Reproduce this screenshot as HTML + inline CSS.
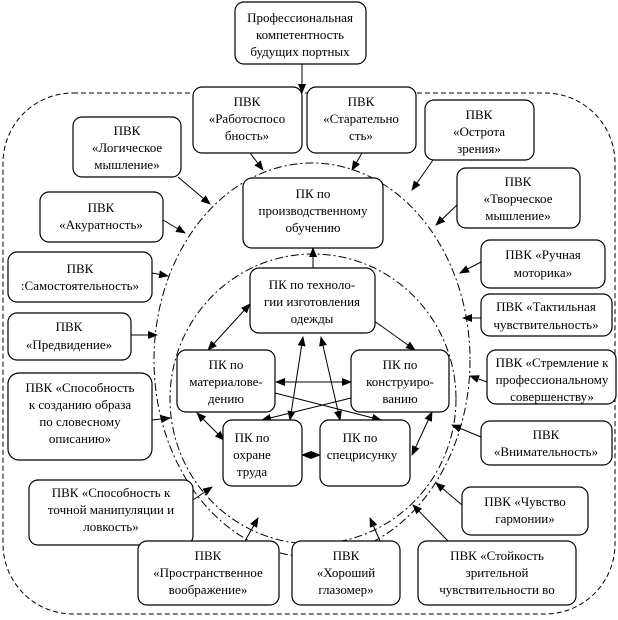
<!DOCTYPE html>
<html><head><meta charset="utf-8"><style>
html,body{margin:0;padding:0;background:#fff;}
svg{display:block;}
text{font-family:"Liberation Serif","DejaVu Serif",serif;font-size:13px;fill:#000;text-anchor:middle;}
.b{fill:#fff;stroke:#000;stroke-width:1.2;}
.l{stroke:#000;stroke-width:1;fill:none;}
</style></head><body>
<svg width="618" height="620" viewBox="0 0 618 620" xmlns="http://www.w3.org/2000/svg">
<defs>
<marker id="a" markerWidth="10" markerHeight="8" refX="9" refY="4" orient="auto" markerUnits="userSpaceOnUse"><path d="M0,0L10,4L0,8z" fill="#000"/></marker>
<marker id="s" markerWidth="10" markerHeight="8" refX="1" refY="4" orient="auto" markerUnits="userSpaceOnUse"><path d="M10,0L0,4L10,8z" fill="#000"/></marker>
</defs>
<rect x="3" y="93" width="612" height="521" rx="70" class="l" stroke-dasharray="5,3"/>
<ellipse cx="312" cy="360" rx="158" ry="197" class="l" stroke-dasharray="8,3,2,3"/>
<ellipse cx="313" cy="399" rx="143" ry="145" class="l" stroke-dasharray="8,3,2,3"/>

<g class="l" marker-end="url(#a)">
<line x1="302" y1="64" x2="302" y2="93"/>
<line x1="250" y1="153" x2="263" y2="170"/>
<line x1="362" y1="153" x2="352" y2="170"/>
<line x1="433" y1="160" x2="412" y2="190"/>
<line x1="178" y1="177" x2="210" y2="204"/>
<line x1="163" y1="220" x2="185" y2="233"/>
<line x1="152" y1="273" x2="168" y2="276"/>
<line x1="457" y1="205" x2="436" y2="225"/>
<line x1="481" y1="262" x2="460" y2="273"/>
<line x1="481" y1="318" x2="463" y2="318"/>
<line x1="131" y1="335" x2="157" y2="335"/>
<line x1="487" y1="382" x2="470" y2="376"/>
<line x1="152" y1="420" x2="170" y2="418"/>
<line x1="481" y1="437" x2="452" y2="425"/>
<line x1="193" y1="500" x2="212" y2="487"/>
<line x1="462" y1="505" x2="436" y2="483"/>
<line x1="245" y1="541" x2="258" y2="518"/>
<line x1="380" y1="541" x2="370" y2="518"/>
<line x1="448" y1="541" x2="413" y2="505"/>
<line x1="313" y1="268" x2="313" y2="248"/>
<line x1="370" y1="318" x2="415" y2="350"/>
<line x1="275" y1="393" x2="381" y2="420"/>
<line x1="351" y1="398" x2="262" y2="420"/>
</g>
<g class="l" marker-start="url(#s)" marker-end="url(#a)">
<line x1="250" y1="304" x2="208" y2="350"/>
<line x1="303" y1="337" x2="290" y2="420"/>
<line x1="321" y1="337" x2="340" y2="420"/>
<line x1="276" y1="382" x2="351" y2="382"/>
<line x1="197" y1="413" x2="224" y2="440"/>
<line x1="302" y1="455" x2="320" y2="455"/>
<line x1="412" y1="455" x2="432" y2="412"/>
</g>

<g>
<rect x="235" y="2" width="131" height="62" rx="9" class="b"/>
<text x="300" y="22">Профессиональная</text><text x="300" y="39">компетентность</text><text x="300" y="56">будущих портных</text>

<rect x="193" y="87" width="109" height="66" rx="9" class="b"/>
<text x="247" y="106">ПВК</text><text x="247" y="123">«Работоспосо</text><text x="247" y="140">бность»</text>
<rect x="307" y="87" width="109" height="66" rx="9" class="b"/>
<text x="361" y="106">ПВК</text><text x="361" y="123">«Старательно</text><text x="361" y="140">сть»</text>
<rect x="425" y="100" width="109" height="60" rx="9" class="b"/>
<text x="479" y="119">ПВК</text><text x="479" y="136">«Острота</text><text x="479" y="153">зрения»</text>
<rect x="73" y="117" width="108" height="60" rx="9" class="b"/>
<text x="127" y="135">ПВК</text><text x="127" y="152">«Логическое</text><text x="127" y="169">мышление»</text>
<rect x="457" y="168" width="123" height="60" rx="9" class="b"/>
<text x="518" y="186">ПВК</text><text x="518" y="203">«Творческое</text><text x="518" y="220">мышление»</text>
<rect x="40" y="192" width="123" height="50" rx="9" class="b"/>
<text x="101" y="212">ПВК</text><text x="101" y="229">«Акуратность»</text>
<rect x="481" y="240" width="124" height="48" rx="9" class="b"/>
<text x="543" y="259">ПВК «Ручная</text><text x="543" y="277">моторика»</text>
<rect x="8" y="252" width="144" height="50" rx="9" class="b"/>
<text x="80" y="273">ПВК</text><text x="80" y="290">:Самостоятельность»</text>
<rect x="481" y="294" width="131" height="42" rx="9" class="b"/>
<text x="546" y="311">ПВК «Тактильная</text><text x="546" y="329">чувствительность»</text>
<rect x="8" y="313" width="123" height="47" rx="9" class="b"/>
<text x="69" y="331">ПВК</text><text x="69" y="349">«Предвидение»</text>
<rect x="487" y="350" width="129" height="54" rx="9" class="b"/>
<text x="552" y="367">ПВК «Стремление к</text><text x="552" y="384">профессиональному</text><text x="552" y="401">совершенству»</text>
<rect x="8" y="373" width="144" height="87" rx="11" class="b"/>
<text x="80" y="392">ПВК «Способность</text><text x="80" y="409">к созданию образа</text><text x="80" y="426">по словесному</text><text x="80" y="443">описанию»</text>
<rect x="481" y="421" width="131" height="44" rx="9" class="b"/>
<text x="546" y="439">ПВК</text><text x="546" y="456">«Внимательность»</text>
<rect x="29" y="480" width="164" height="65" rx="9" class="b"/>
<text x="111" y="497">ПВК «Способность к</text><text x="111" y="514">точной манипуляции и</text><text x="111" y="531">ловкость»</text>
<rect x="462" y="487" width="126" height="48" rx="9" class="b"/>
<text x="525" y="506">ПВК «Чувство</text><text x="525" y="523">гармонии»</text>
<rect x="138" y="541" width="141" height="64" rx="9" class="b"/>
<text x="208" y="560">ПВК</text><text x="208" y="577">«Пространственное</text><text x="208" y="594">воображение»</text>
<rect x="292" y="541" width="108" height="64" rx="9" class="b"/>
<text x="346" y="560">ПВК</text><text x="346" y="577">«Хороший</text><text x="346" y="594">глазомер»</text>
<rect x="418" y="541" width="158" height="64" rx="9" class="b"/>
<text x="497" y="560">ПВК «Стойкость</text><text x="497" y="577">зрительной</text><text x="497" y="594">чувствительности во</text>

<rect x="243" y="178" width="140" height="70" rx="9" class="b"/>
<text x="313" y="198">ПК по</text><text x="313" y="215">производственному</text><text x="313" y="232">обучению</text>
<rect x="250" y="268" width="125" height="65" rx="9" class="b"/>
<text x="312" y="289">ПК по техноло-</text><text x="312" y="306">гии изготовления</text><text x="312" y="323">одежды</text>
<rect x="177" y="350" width="98" height="62" rx="9" class="b"/>
<text x="226" y="369">ПК по</text><text x="226" y="386">материалове-</text><text x="226" y="403">дению</text>
<rect x="351" y="350" width="98" height="62" rx="9" class="b"/>
<text x="400" y="369">ПК по</text><text x="400" y="386">конструиро-</text><text x="400" y="403">ванию</text>
<rect x="223" y="420" width="79" height="66" rx="9" class="b"/>
<text x="252" y="442">ПК по</text><text x="252" y="459">охране</text><text x="252" y="476">труда</text>
<rect x="320" y="420" width="90" height="66" rx="9" class="b"/>
<text x="360" y="442">ПК по</text><text x="362" y="459">спецрисунку</text>
</g>
</svg>
</body></html>
